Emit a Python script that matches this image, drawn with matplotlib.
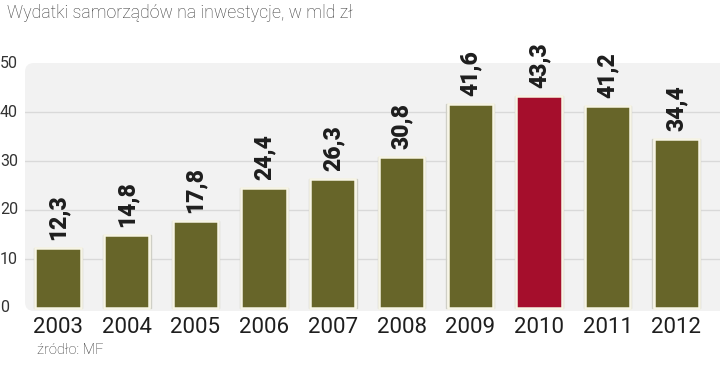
import matplotlib
matplotlib.use("Agg")
import matplotlib.pyplot as plt
from matplotlib.patches import FancyBboxPatch
from matplotlib.transforms import IdentityTransform

years = ["2003", "2004", "2005", "2006", "2007", "2008", "2009", "2010", "2011", "2012"]
values = [12.3, 14.8, 17.8, 24.4, 26.3, 30.8, 41.6, 43.3, 41.2, 34.4]
labels = ["12,3", "14,8", "17,8", "24,4", "26,3", "30,8", "41,6", "43,3", "41,2", "34,4"]
highlight = "2010"
yticks = [0, 10, 20, 30, 40, 50]

OLIVE = "#676529"
RED = "#a50e2c"

W, H = 720, 365
fig = plt.figure(figsize=(W / 100, H / 100), dpi=100)
fig.patch.set_facecolor("white")

ax_l, ax_r = 25, 720
y0, y50 = 308, 63
ybot = 311
ax = fig.add_axes([ax_l / W, (H - ybot) / H, (ax_r - ax_l) / W, (ybot - y50) / H])
ymin = -(ybot - y0) / ((y0 - y50) / 50)
ax.set_ylim(ymin, 50)
step = 68.7
c0 = 58
ax.set_xlim((ax_l - c0) / step, (ax_r - c0) / step)
ax.patch.set_visible(False)
ax.set_zorder(2)
for s in ax.spines.values():
    s.set_visible(False)

bg = FancyBboxPatch((ax_l, H - ybot), 720, ybot - y50,
                    boxstyle="round,pad=0,rounding_size=9",
                    transform=IdentityTransform(), facecolor="#f2f2f2", edgecolor="none",
                    zorder=-5)
fig.patches.append(bg)

for t in yticks[1:-1]:
    ax.axhline(t, color="#d9d9d9", lw=1.0, zorder=1)

xs = list(range(len(years)))
colors = [RED if y == highlight else OLIVE for y in years]
ax.bar(xs, values, width=0.66 + 0.035, color="none", edgecolor="#cfcfc6",
       linewidth=1.0, zorder=2)
ax.bar(xs, values, width=0.66, color=colors, edgecolor="#f7f5e6", linewidth=1.8,
       zorder=3)

for x, v, lab in zip(xs, values, labels):
    ax.annotate(lab, (x, v), xytext=(0, 8), textcoords="offset pixels", rotation=90,
                ha="center", va="bottom", fontsize=16.5, fontweight="black",
                color="#1e1e1e", family="Roboto", zorder=4)

ax.set_yticks([])
ax.set_xticks([])
for t in yticks:
    ax.annotate(str(t), (0, t), xycoords=("figure fraction", "data"), xytext=(0, 0),
                textcoords="offset pixels", ha="left", va="center", fontsize=11.5,
                color="#333333", family="Roboto",
                annotation_clip=False)

for x, y in zip(xs, years):
    ax.annotate(y, (x, 0), xytext=(0, -9), textcoords="offset pixels", ha="center",
                va="top", fontsize=16, color="#1e1e1e", family="Roboto",
                annotation_clip=False)

fig.text(7 / W, 1 - 13 / H, "Wydatki samorządów na inwestycje, w mld zł", ha="left",
         va="center", fontsize=12.8, color="#383838", family="Roboto", fontweight="light")
fig.text(37 / W, 1 - 350 / H, "źródło: MF", ha="left", va="center", fontsize=10.5,
         color="#333333", family="Roboto", fontweight="light")

fig.savefig("out.png", dpi=100)
